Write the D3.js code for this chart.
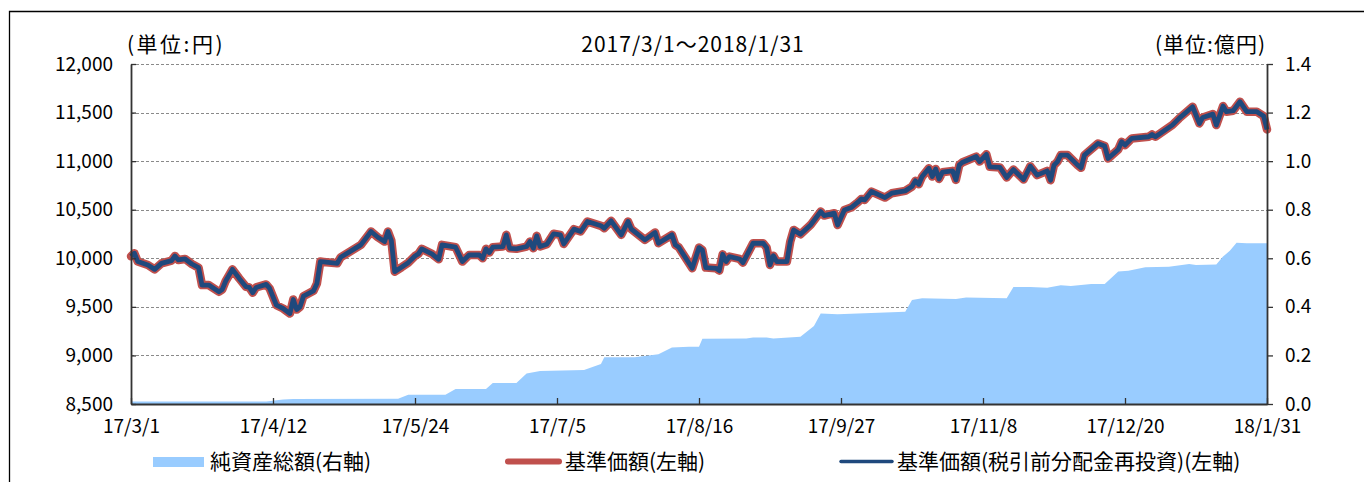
<!DOCTYPE html>
<html>
<head>
<meta charset="utf-8">
<script src="https://cdn.jsdelivr.net/npm/d3@7"></script>
<style>
  body { margin: 0; background: #fff; }
  svg { display: block; font-family: "Noto Sans CJK JP", "Noto Sans", sans-serif; }
</style>
</head>
<body>
<svg id="chart" width="1364" height="482"></svg>
<script>
var priceDates = [
  "17/3/1","17/3/2","17/3/3","17/3/6","17/3/8","17/3/10","17/3/13","17/3/14","17/3/15","17/3/17",
  "17/3/19","17/3/21","17/3/22","17/3/24","17/3/27","17/3/28","17/3/29","17/3/31","17/4/2","17/4/4",
  "17/4/5","17/4/6","17/4/7","17/4/10","17/4/11","17/4/13","17/4/15","17/4/17","17/4/18","17/4/19",
  "17/4/20","17/4/21","17/4/24","17/4/25","17/4/26","17/4/27","17/5/1","17/5/2","17/5/8","17/5/11",
  "17/5/13","17/5/15","17/5/16","17/5/17","17/5/18","17/5/20","17/5/22","17/5/24","17/5/25","17/5/26",
  "17/5/29","17/5/31","17/6/1","17/6/5","17/6/7","17/6/9","17/6/12","17/6/13","17/6/14","17/6/15",
  "17/6/16","17/6/19","17/6/20","17/6/21","17/6/23","17/6/26","17/6/27","17/6/28","17/6/29","17/6/30",
  "17/7/2","17/7/4","17/7/6","17/7/7","17/7/10","17/7/12","17/7/14","17/7/18","17/7/19","17/7/21",
  "17/7/24","17/7/26","17/7/27","17/7/31","17/8/3","17/8/4","17/8/8","17/8/9","17/8/10","17/8/14",
  "17/8/16","17/8/17","17/8/18","17/8/21","17/8/22","17/8/23","17/8/24","17/8/25","17/8/28","17/8/29",
  "17/9/1","17/9/4","17/9/5","17/9/6","17/9/7","17/9/8","17/9/11","17/9/12","17/9/13","17/9/15",
  "17/9/18","17/9/21","17/9/22","17/9/25","17/9/26","17/9/28","17/9/30","17/10/2","17/10/3","17/10/4",
  "17/10/6","17/10/10","17/10/12","17/10/16","17/10/18","17/10/19","17/10/20","17/10/21","17/10/23","17/10/24",
  "17/10/25","17/10/26","17/10/27","17/10/30","17/10/31","17/11/1","17/11/2","17/11/6","17/11/7","17/11/9",
  "17/11/10","17/11/13","17/11/15","17/11/17","17/11/20","17/11/22","17/11/24","17/11/27","17/11/28","17/11/29",
  "17/11/30","17/12/1","17/12/3","17/12/6","17/12/7","17/12/8","17/12/12","17/12/14","17/12/15","17/12/18",
  "17/12/19","17/12/20","17/12/22","17/12/27","17/12/28","17/12/29","18/1/3","18/1/5","18/1/9","18/1/11",
  "18/1/12","18/1/15","18/1/16","18/1/18","18/1/19","18/1/21","18/1/23","18/1/25","18/1/28","18/1/30",
  "18/1/31"
];

// 基準価額 (yen)
var priceValues = [
  10020,10052,9966,9931,9886,9948,9976,10024,9983,9993,
  9941,9903,9724,9724,9655,9679,9766,9886,9793,9707,
  9700,9645,9700,9731,9690,9517,9483,9431,9576,9472,
  9500,9610,9665,9741,9966,9962,9948,10010,10138,10276,
  10217,10172,10276,10183,9862,9907,9955,10024,10045,10097,
  10045,9990,10138,10114,9966,10034,10034,10000,10097,10059,
  10114,10121,10241,10103,10097,10121,10172,10103,10231,10121,
  10145,10252,10241,10148,10300,10276,10379,10334,10310,10386,
  10241,10379,10300,10190,10265,10155,10241,10138,10114,9897,
  10110,10086,9904,9897,9873,10041,9966,10017,9993,9955,
  10155,10155,10110,9931,10027,9966,9966,10172,10292,10247,
  10343,10481,10440,10464,10343,10498,10522,10577,10611,10601,
  10687,10625,10670,10694,10738,10797,10762,10841,10927,10841,
  10920,10817,10886,10900,10807,10962,10989,11047,10996,11070,
  10942,10935,10832,10914,10811,10948,10856,10900,10804,10959,
  10993,11062,11062,10959,10931,11062,11182,11155,11027,11120,
  11199,11165,11234,11251,11275,11251,11371,11440,11560,11388,
  11450,11484,11371,11567,11509,11519,11612,11509,11509,11464,
  11326
];

// 基準価額(税引前分配金再投資): no distribution in the period, the two lines coincide
var reinvestValues = priceValues;

var assetDates = [
  "17/3/1","17/4/10","17/4/15","17/4/18","17/5/19","17/5/22","17/6/2","17/6/5","17/6/14","17/6/16",
  "17/6/23","17/6/26","17/6/30","17/7/13","17/7/18","17/7/19","17/7/28","17/8/4","17/8/8","17/8/13",
  "17/8/16","17/8/17","17/8/30","17/9/1","17/9/5","17/9/7","17/9/15","17/9/19","17/9/21","17/9/26",
  "17/10/16","17/10/18","17/10/21","17/10/31","17/11/3","17/11/15","17/11/17","17/11/22","17/11/27","17/12/1",
  "17/12/4","17/12/10","17/12/14","17/12/18","17/12/21","17/12/26","18/1/2","18/1/8","18/1/10","18/1/16",
  "18/1/18","18/1/20","18/1/22","18/1/25","18/1/31"
];

// 純資産総額 (100M yen)
var assetValues = [
  0.010,0.010,0.019,0.021,0.022,0.038,0.038,0.062,0.062,0.086,
  0.086,0.126,0.136,0.140,0.165,0.193,0.193,0.205,0.233,0.236,
  0.236,0.269,0.270,0.274,0.274,0.270,0.277,0.321,0.373,0.370,
  0.380,0.428,0.435,0.432,0.439,0.435,0.482,0.482,0.479,0.489,
  0.486,0.494,0.494,0.546,0.549,0.563,0.565,0.576,0.572,0.574,
  0.607,0.631,0.664,0.662,0.662
];

var xTickLabels = ["17/3/1","17/4/12","17/5/24","17/7/5","17/8/16","17/9/27","17/11/8","17/12/20","18/1/31"];
var leftTicks = [8500, 9000, 9500, 10000, 10500, 11000, 11500, 12000];
var rightTicks = [0, 0.2, 0.4, 0.6, 0.8, 1.0, 1.2, 1.4];

function draw () {
  var parse = d3.timeParse("%y/%m/%d");
  var svg = d3.select("#chart");

  var plotLeft = 131, plotRight = 1267, plotTop = 64, plotBottom = 404;

  var x = d3.scaleTime()
    .domain([parse(xTickLabels[0]), parse(xTickLabels[xTickLabels.length - 1])])
    .range([plotLeft, plotRight]);
  var yL = d3.scaleLinear().domain([8500, 12000]).range([plotBottom, plotTop]);
  var yR = d3.scaleLinear().domain([0, 1.4]).range([plotBottom, plotTop]);

  var price = priceDates.map(function (d, i) { return { date: parse(d), v: priceValues[i] }; });
  var reinvest = priceDates.map(function (d, i) { return { date: parse(d), v: reinvestValues[i] }; });
  var assets = assetDates.map(function (d, i) { return { date: parse(d), v: assetValues[i] }; });

  // frame
  svg.append("path")
    .attr("d", "M9.5,482V11.5H1364")
    .attr("fill", "none")
    .attr("stroke", "#000")
    .attr("stroke-width", 1.3);

  // grid
  svg.append("g").selectAll("line")
    .data(leftTicks.slice(1))
    .enter().append("line")
      .attr("x1", plotLeft).attr("x2", plotRight)
      .attr("y1", function (d) { return Math.round(yL(d)) + 0.5; })
      .attr("y2", function (d) { return Math.round(yL(d)) + 0.5; })
      .attr("stroke", "#8a8a8a")
      .attr("stroke-dasharray", "3,2");

  // net assets area
  svg.append("path")
    .datum(assets)
    .attr("fill", "#99ccff")
    .attr("d", d3.area()
      .x(function (d) { return x(d.date); })
      .y0(yR(0))
      .y1(function (d) { return yR(d.v); }));

  var line = d3.line()
    .x(function (d) { return x(d.date); })
    .y(function (d) { return yL(d.v); });

  svg.append("path")
    .datum(price)
    .attr("fill", "none")
    .attr("stroke", "#c0504d")
    .attr("stroke-width", 8.5)
    .attr("stroke-linejoin", "round")
    .attr("stroke-linecap", "round")
    .attr("d", line);

  svg.append("path")
    .datum(reinvest)
    .attr("fill", "none")
    .attr("stroke", "#1f497d")
    .attr("stroke-width", 4.8)
    .attr("stroke-linejoin", "round")
    .attr("d", line);

  // axes
  var xAxis = svg.append("g")
    .attr("transform", "translate(0," + plotBottom + ")")
    .call(d3.axisBottom(x)
      .tickValues(xTickLabels.map(parse))
      .tickFormat(function (d, i) { return xTickLabels[i]; })
      .tickSizeInner(-6).tickSizeOuter(0).tickPadding(16));

  var yAxisL = svg.append("g")
    .attr("transform", "translate(" + plotLeft + ",0)")
    .call(d3.axisLeft(yL)
      .tickValues(leftTicks)
      .tickFormat(d3.format(","))
      .tickSizeInner(-5).tickSizeOuter(0).tickPadding(18));

  var yAxisR = svg.append("g")
    .attr("transform", "translate(" + plotRight + ",0)")
    .call(d3.axisRight(yR)
      .tickValues(rightTicks)
      .tickFormat(d3.format(".1f"))
      .tickSizeInner(6).tickSizeOuter(0).tickPadding(12));

  [xAxis, yAxisL, yAxisR].forEach(function (g) {
    g.select(".domain").attr("stroke", "#333").attr("stroke-width", 1.8);
    g.selectAll(".tick line").attr("stroke", "#333").attr("stroke-width", 1.3);
    g.selectAll("text")
      .attr("fill", "#000")
      .style("font-size", "19px")
      .style("font-family", "\"Noto Sans CJK JP\", sans-serif");
  });

  // titles
  svg.append("text")
    .attr("x", 693).attr("y", 52)
    .attr("text-anchor", "middle")
    .style("font-size", "21px")
    .style("letter-spacing", "1px")
    .text("2017/3/1～2018/1/31");

  svg.append("text")
    .attr("x", 127).attr("y", 52)
    .style("font-size", "21px")
    .style("letter-spacing", "2.5px")
    .text("(単位:円)");

  svg.append("text")
    .attr("x", 1266).attr("y", 52)
    .attr("text-anchor", "end")
    .style("font-size", "21px")
    .style("letter-spacing", "1px")
    .text("(単位:億円)");

  // legend
  var legend = svg.append("g").style("font-size", "21px");

  legend.append("rect")
    .attr("x", 153).attr("y", 457)
    .attr("width", 51).attr("height", 10)
    .attr("fill", "#99ccff");
  legend.append("text")
    .attr("x", 210).attr("y", 469)
    .text("純資産総額(右軸)");

  legend.append("line")
    .attr("x1", 508).attr("x2", 559)
    .attr("y1", 461.5).attr("y2", 461.5)
    .attr("stroke", "#c0504d").attr("stroke-width", 6)
    .attr("stroke-linecap", "round");
  legend.append("text")
    .attr("x", 565).attr("y", 469)
    .text("基準価額(左軸)");

  legend.append("line")
    .attr("x1", 841).attr("x2", 892)
    .attr("y1", 461.5).attr("y2", 461.5)
    .attr("stroke", "#1f497d").attr("stroke-width", 3.5)
    .attr("stroke-linecap", "round");
  legend.append("text")
    .attr("x", 897).attr("y", 469)
    .text("基準価額(税引前分配金再投資)(左軸)");
}

draw();
</script>
</body>
</html>
